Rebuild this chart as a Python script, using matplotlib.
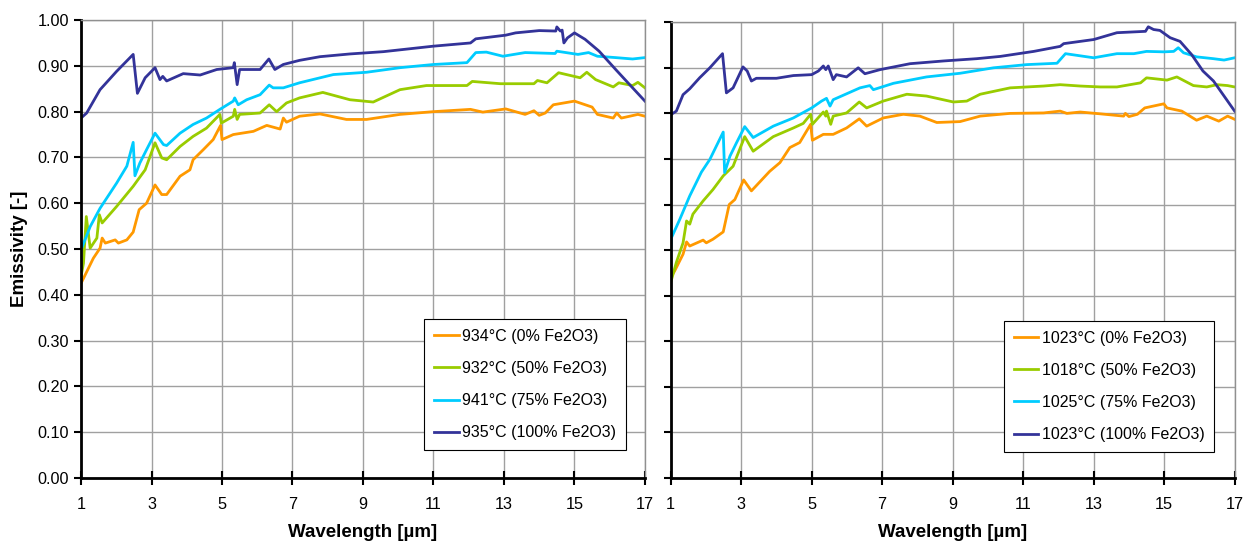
import matplotlib.pyplot as plt
from matplotlib.ticker import FormatStrFormatter

plt.rcParams['font.family'] = ['Liberation Sans', 'DejaVu Sans']

colors = ['#FF9900', '#99CC00', '#00CCFF', '#333399']
labels_left = ['934°C (0% Fe2O3)', '932°C (50% Fe2O3)', '941°C (75% Fe2O3)', '935°C (100% Fe2O3)']
labels_right = ['1023°C (0% Fe2O3)', '1018°C (50% Fe2O3)', '1025°C (75% Fe2O3)', '1023°C (100% Fe2O3)']

# ---- left panel (about 935 C) ----
wl_l0 = [1.0, 1.35, 1.54, 1.6, 1.69, 1.97, 2.06, 2.3, 2.48, 2.65, 2.86, 3.1, 3.29, 3.43, 3.81, 4.09,
         4.18, 4.47, 4.75, 4.96, 5.0, 5.32, 5.89, 6.27, 6.65, 6.74, 6.83, 7.2, 7.78, 8.53, 9.1, 10.05,
         11.0, 12.05, 12.4, 13.05, 13.6, 13.85, 14.0, 14.17, 14.4, 15.0, 15.5, 15.65, 16.1, 16.2,
         16.33, 16.8, 17.0]
em_l0 = [0.425, 0.48, 0.502, 0.524, 0.513, 0.52, 0.513, 0.52, 0.537, 0.586, 0.6, 0.64, 0.619, 0.619,
         0.659, 0.673, 0.695, 0.717, 0.739, 0.77, 0.739, 0.75, 0.757, 0.77, 0.762, 0.786, 0.777, 0.79,
         0.795, 0.783, 0.783, 0.794, 0.8, 0.805, 0.799, 0.806, 0.794, 0.802, 0.792, 0.797, 0.815,
         0.823, 0.81, 0.794, 0.786, 0.797, 0.786, 0.794, 0.79]

wl_l1 = [1.0, 1.07, 1.15, 1.26, 1.45, 1.52, 1.6, 2.01, 2.48, 2.82, 3.1, 3.29, 3.43, 3.81, 4.18, 4.56,
         4.94, 4.98, 5.32, 5.36, 5.43, 5.5, 6.08, 6.34, 6.55, 6.83, 7.2, 7.86, 8.63, 9.29, 10.05, 10.8,
         11.95, 12.1, 12.9, 13.85, 13.95, 14.22, 14.55, 15.16, 15.35, 15.6, 16.1, 16.26, 16.65, 16.8, 17.0]
em_l1 = [0.44, 0.469, 0.571, 0.502, 0.524, 0.575, 0.557, 0.593, 0.637, 0.673, 0.732, 0.699, 0.695,
         0.724, 0.746, 0.764, 0.794, 0.775, 0.79, 0.805, 0.783, 0.794, 0.797, 0.815, 0.8, 0.819, 0.83,
         0.842, 0.826, 0.821, 0.848, 0.857, 0.857, 0.866, 0.861, 0.861, 0.868, 0.863, 0.885, 0.874,
         0.886, 0.87, 0.854, 0.863, 0.857, 0.864, 0.852]

wl_l2 = [1.0, 1.26, 1.54, 2.01, 2.3, 2.48, 2.53, 2.67, 2.86, 3.1, 3.34, 3.43, 3.81, 4.18, 4.56, 4.94,
         5.32, 5.36, 5.46, 5.7, 6.08, 6.34, 6.45, 6.74, 7.2, 8.16, 9.1, 10.05, 11.0, 11.95, 12.2, 12.5,
         12.97, 13.6, 14.45, 14.5, 15.1, 15.4, 15.65, 16.17, 16.65, 17.0]
em_l2 = [0.498, 0.549, 0.589, 0.644, 0.681, 0.733, 0.66, 0.688, 0.717, 0.753, 0.728, 0.726, 0.753,
         0.772, 0.786, 0.805, 0.823, 0.83, 0.815, 0.826, 0.837, 0.858, 0.852, 0.852, 0.863, 0.881,
         0.886, 0.896, 0.903, 0.907, 0.929, 0.93, 0.921, 0.929, 0.927, 0.932, 0.925, 0.929, 0.921,
         0.918, 0.915, 0.918]

wl_l3 = [1.0, 1.16, 1.54, 2.01, 2.48, 2.6, 2.82, 3.1, 3.24, 3.32, 3.43, 3.9, 4.38, 4.85, 5.32, 5.35,
         5.43, 5.5, 6.08, 6.33, 6.5, 6.74, 7.2, 7.78, 8.63, 9.58, 11.0, 12.05, 12.2, 13.05, 13.33, 14.0,
         14.47, 14.5, 14.6, 14.65, 14.7, 14.8, 15.0, 15.3, 15.7, 16.17, 16.65, 17.0]
em_l3 = [0.786, 0.797, 0.848, 0.888, 0.925, 0.84, 0.874, 0.896, 0.87, 0.877, 0.867, 0.883, 0.88,
         0.892, 0.896, 0.907, 0.859, 0.892, 0.892, 0.915, 0.892, 0.903, 0.912, 0.92, 0.926, 0.931,
         0.943, 0.95, 0.959, 0.967, 0.972, 0.977, 0.976, 0.985, 0.976, 0.978, 0.95, 0.961, 0.972,
         0.958, 0.932, 0.892, 0.852, 0.823]

# ---- right panel (about 1020 C) ----
wl_r0 = [1.0, 1.11, 1.35, 1.45, 1.54, 1.92, 2.01, 2.2, 2.49, 2.66, 2.82, 3.07, 3.29, 3.81, 4.1, 4.38,
         4.66, 4.97, 5.02, 5.33, 5.61, 5.99, 6.35, 6.56, 7.03, 7.6, 8.07, 8.55, 9.21, 9.78, 10.63,
         11.58, 12.05, 12.24, 12.62, 13.19, 13.85, 13.9, 14.0, 14.24, 14.45, 14.99, 15.08, 15.5,
         15.92, 16.21, 16.55, 16.8, 17.0]
em_r0 = [0.44, 0.454, 0.491, 0.518, 0.509, 0.522, 0.516, 0.524, 0.54, 0.6, 0.611, 0.654, 0.63, 0.673,
         0.692, 0.725, 0.736, 0.776, 0.741, 0.754, 0.754, 0.768, 0.788, 0.772, 0.79, 0.798, 0.794,
         0.78, 0.782, 0.794, 0.8, 0.801, 0.805, 0.8, 0.803, 0.799, 0.794, 0.8, 0.793, 0.798, 0.812,
         0.821, 0.812, 0.805, 0.785, 0.794, 0.783, 0.794, 0.787]

wl_r1 = [1.0, 1.16, 1.35, 1.45, 1.54, 1.63, 1.92, 2.2, 2.49, 2.77, 2.88, 3.1, 3.34, 3.91, 4.48, 4.76,
         4.97, 5.02, 5.33, 5.4, 5.42, 5.54, 5.61, 5.99, 6.35, 6.56, 7.03, 7.7, 8.26, 9.02, 9.4, 9.78,
         10.63, 11.58, 12.05, 12.62, 13.19, 13.66, 14.33, 14.5, 15.08, 15.36, 15.83, 16.21, 16.5,
         16.8, 17.0]
em_r1 = [0.429, 0.473, 0.516, 0.564, 0.557, 0.579, 0.608, 0.633, 0.663, 0.684, 0.706, 0.749, 0.717,
         0.749, 0.768, 0.778, 0.798, 0.776, 0.803, 0.794, 0.805, 0.776, 0.794, 0.801, 0.825, 0.812,
         0.827, 0.842, 0.838, 0.825, 0.827, 0.842, 0.856, 0.86, 0.863, 0.86, 0.858, 0.858, 0.867,
         0.878, 0.873, 0.88, 0.861, 0.858, 0.863, 0.861, 0.858]

wl_r2 = [1.0, 1.02, 1.26, 1.54, 1.87, 2.11, 2.49, 2.53, 2.68, 2.87, 3.1, 3.34, 3.91, 4.48, 5.0, 5.28,
         5.42, 5.52, 5.61, 6.37, 6.65, 6.75, 7.32, 8.26, 9.21, 10.16, 11.1, 11.96, 12.2, 13.0, 13.66,
         14.14, 14.5, 14.99, 15.27, 15.4, 15.55, 15.92, 16.4, 16.7, 17.0]
em_r2 = [0.498, 0.527, 0.568, 0.619, 0.671, 0.699, 0.759, 0.67, 0.706, 0.736, 0.771, 0.747, 0.772,
         0.79, 0.812, 0.827, 0.833, 0.816, 0.83, 0.856, 0.861, 0.852, 0.866, 0.88, 0.888, 0.9, 0.907,
         0.91, 0.931, 0.922, 0.931, 0.931, 0.936, 0.935, 0.936, 0.944, 0.933, 0.924, 0.92, 0.917, 0.922]

wl_r3 = [1.0, 1.16, 1.35, 1.54, 1.82, 2.11, 2.47, 2.58, 2.77, 3.05, 3.17, 3.29, 3.43, 4.0, 4.48, 5.0,
         5.19, 5.33, 5.4, 5.47, 5.61, 5.7, 5.99, 6.32, 6.51, 6.94, 7.79, 8.74, 9.68, 10.35, 11.3, 12.05,
         12.15, 13.0, 13.66, 14.47, 14.55, 14.7, 14.88, 15.17, 15.45, 15.78, 16.1, 16.4, 16.7, 17.0]
em_r3 = [0.797, 0.805, 0.841, 0.854, 0.878, 0.9, 0.931, 0.845, 0.856, 0.902, 0.893, 0.871, 0.877,
         0.877, 0.883, 0.885, 0.893, 0.904, 0.896, 0.904, 0.874, 0.885, 0.88, 0.9, 0.887, 0.896,
         0.909, 0.915, 0.92, 0.925, 0.936, 0.947, 0.953, 0.962, 0.977, 0.98, 0.99, 0.984, 0.982,
         0.966, 0.958, 0.929, 0.893, 0.871, 0.838, 0.805]

left_data = [(wl_l0, em_l0), (wl_l1, em_l1), (wl_l2, em_l2), (wl_l3, em_l3)]
right_data = [(wl_r0, em_r0), (wl_r1, em_r1), (wl_r2, em_r2), (wl_r3, em_r3)]

fig = plt.figure(figsize=(12.56, 5.42), dpi=100)
ax1 = fig.add_axes([0.0645, 0.118, 0.449, 0.845])
ax2 = fig.add_axes([0.534, 0.118, 0.449, 0.841])

panels = [(ax1, left_data, labels_left, (0.966, 0.061)),
          (ax2, right_data, labels_right, (0.964, 0.057))]
for ax, data, labels, anchor in panels:
    for (x, y), c, lab in zip(data, colors, labels):
        ax.plot(x, y, color=c, lw=2.0, label=lab)
    ax.set_xlim(1, 17)
    ax.set_ylim(0, 1)
    ax.set_xticks(range(1, 18, 2))
    ax.set_yticks([i / 10 for i in range(11)])
    ax.yaxis.set_major_formatter(FormatStrFormatter('%.2f'))
    ax.grid(True, color='#a0a0a0', lw=1.0)
    ax.set_axisbelow(True)
    for s in ['top', 'right']:
        ax.spines[s].set_color('#909090')
        ax.spines[s].set_linewidth(1.0)
    for s in ['left', 'bottom']:
        ax.spines[s].set_color('black')
        ax.spines[s].set_linewidth(2.0)
    ax.tick_params(axis='both', labelsize=11.7, width=1.5, length=5, color='black')
    ax.tick_params(axis='x', direction='inout', length=10, pad=9)
    ax.set_xlabel('Wavelength [µm]', fontsize=13.5, fontweight='bold', labelpad=8)
    leg = ax.legend(loc='lower right', bbox_to_anchor=anchor, borderaxespad=0, fontsize=11.5,
                    frameon=True, fancybox=False, edgecolor='black', framealpha=1,
                    labelspacing=1.07, handlelength=1.55, handletextpad=0.2, borderpad=0.62)
    leg.get_frame().set_linewidth(0.8)

ax1.set_ylabel('Emissivity [-]', fontsize=13.5, fontweight='bold', labelpad=7)
ax2.tick_params(axis='y', labelleft=False)

fig.savefig('out.png', dpi=100)
